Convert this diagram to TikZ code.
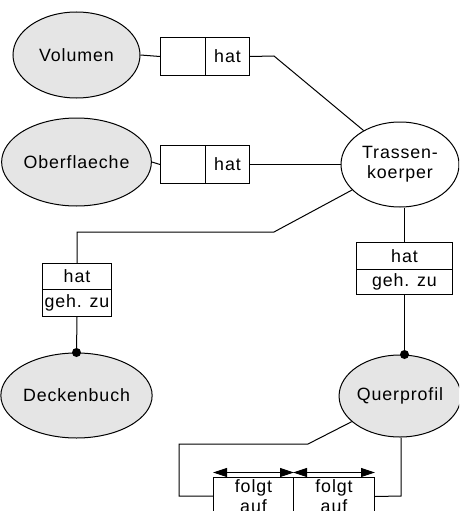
\documentclass[tikz,border=0pt]{standalone}
\usepackage{fontspec}
\setmainfont{Liberation Sans}[LetterSpace=5]
\usetikzlibrary{shapes.geometric,arrows.meta}
\begin{document}
\begin{tikzpicture}[x=1pt,y=-1pt,
  every node/.style={font=\fontsize{17.8}{20}\selectfont},
  ent/.style={ellipse,draw,line width=1pt,fill=black!10,inner sep=0pt},
  cell/.style={rectangle,draw,line width=1pt,inner sep=0pt,anchor=north west},
  conn/.style={line width=1pt},
  dotc/.style={fill=black,draw=none,circle,minimum size=9pt,inner sep=0pt},
  tip/.style={{Triangle[length=14pt,width=9pt]}-{Triangle[length=14pt,width=9pt]},line width=1pt}
]
\useasboundingbox (0,0) rectangle (459,511);
\clip (0,0) rectangle (459,511);
% entities
\node[ent,minimum width=127pt,minimum height=86pt] (vol) at (76.5,55) {Volumen};
\node[ent,minimum width=127pt,minimum height=88pt] (obf) at (76.5,162) {Oberflaeche};
\node[ent,fill=white,minimum width=118pt,minimum height=85pt,align=center] (tras) at (400,164.5) {Trassen-\\koerper};
\node[ent,minimum width=127pt,minimum height=85pt] (deck) at (76.5,395.5) {Deckenbuch};
\node[ent,minimum width=118pt,minimum height=82pt] (quer) at (400,396) {Querprofil};
% relationship boxes
\node[cell,minimum width=45pt,minimum height=38pt] (volA) at (160,37) {};
\node[cell,minimum width=44pt,minimum height=38pt] (volB) at (205,37) {hat};
\node[cell,minimum width=45pt,minimum height=38pt] (obfA) at (160,145) {};
\node[cell,minimum width=44pt,minimum height=38pt] (obfB) at (205,145) {hat};
\node[cell,minimum width=69pt,minimum height=26pt] (dH) at (42,263) {hat};
\node[cell,minimum width=69pt,minimum height=27pt] (dG) at (42,289) {geh. zu};
\node[cell,minimum width=96pt,minimum height=27pt] (qH) at (356,242) {hat};
\node[cell,minimum width=96pt,minimum height=25pt] (qG) at (356,269) {geh. zu};
\node[cell,minimum width=80pt,minimum height=38pt,align=center] (f1) at (213,477) {folgt\\auf};
\node[cell,minimum width=81pt,minimum height=38pt,align=center] (f2) at (293,477) {folgt\\auf};
% bend points
\coordinate (v1) at (274,56);
\coordinate (t1) at (274,232);
\coordinate (t2) at (77,232);
\coordinate (q1) at (308,444);
\coordinate (q2) at (179,444);
\coordinate (q3) at (179,496);
\coordinate (q4) at (401,496);
% connectors
\draw[conn] (vol.east) -- (volA.west);
\draw[conn] (volB.east) -- (v1) -- (tras.137);
\draw[conn] (obf.east) -- (obfA.west);
\draw[conn] (obfB.east) -- (obfB.east -| tras.west);
\draw[conn] (tras.208) -- (t1) -- (t2) -- (dH.north);
\draw[conn] (dG.south) -- (deck.north);
\node[dotc] (dd) at (deck.north) {};
\draw[conn] (qH.north |- tras.south) -- (qH.north);
\draw[conn] (qG.south) -- (qG.south |- quer.north);
\node[dotc] (qd) at (qG.south |- quer.north) {};
\draw[conn] (quer.208) -- (q1) -- (q2) -- (q3) -- (q3 -| f1.west);
\draw[conn] (f2.east) -- (q4) -- (q4 |- quer.south);
\draw[tip] ([yshift=4.5pt]f1.north west) -- ([yshift=4.5pt]f1.north east);
\draw[tip] ([yshift=4.5pt]f2.north west) -- ([yshift=4.5pt]f2.north east);
\end{tikzpicture}
\end{document}
